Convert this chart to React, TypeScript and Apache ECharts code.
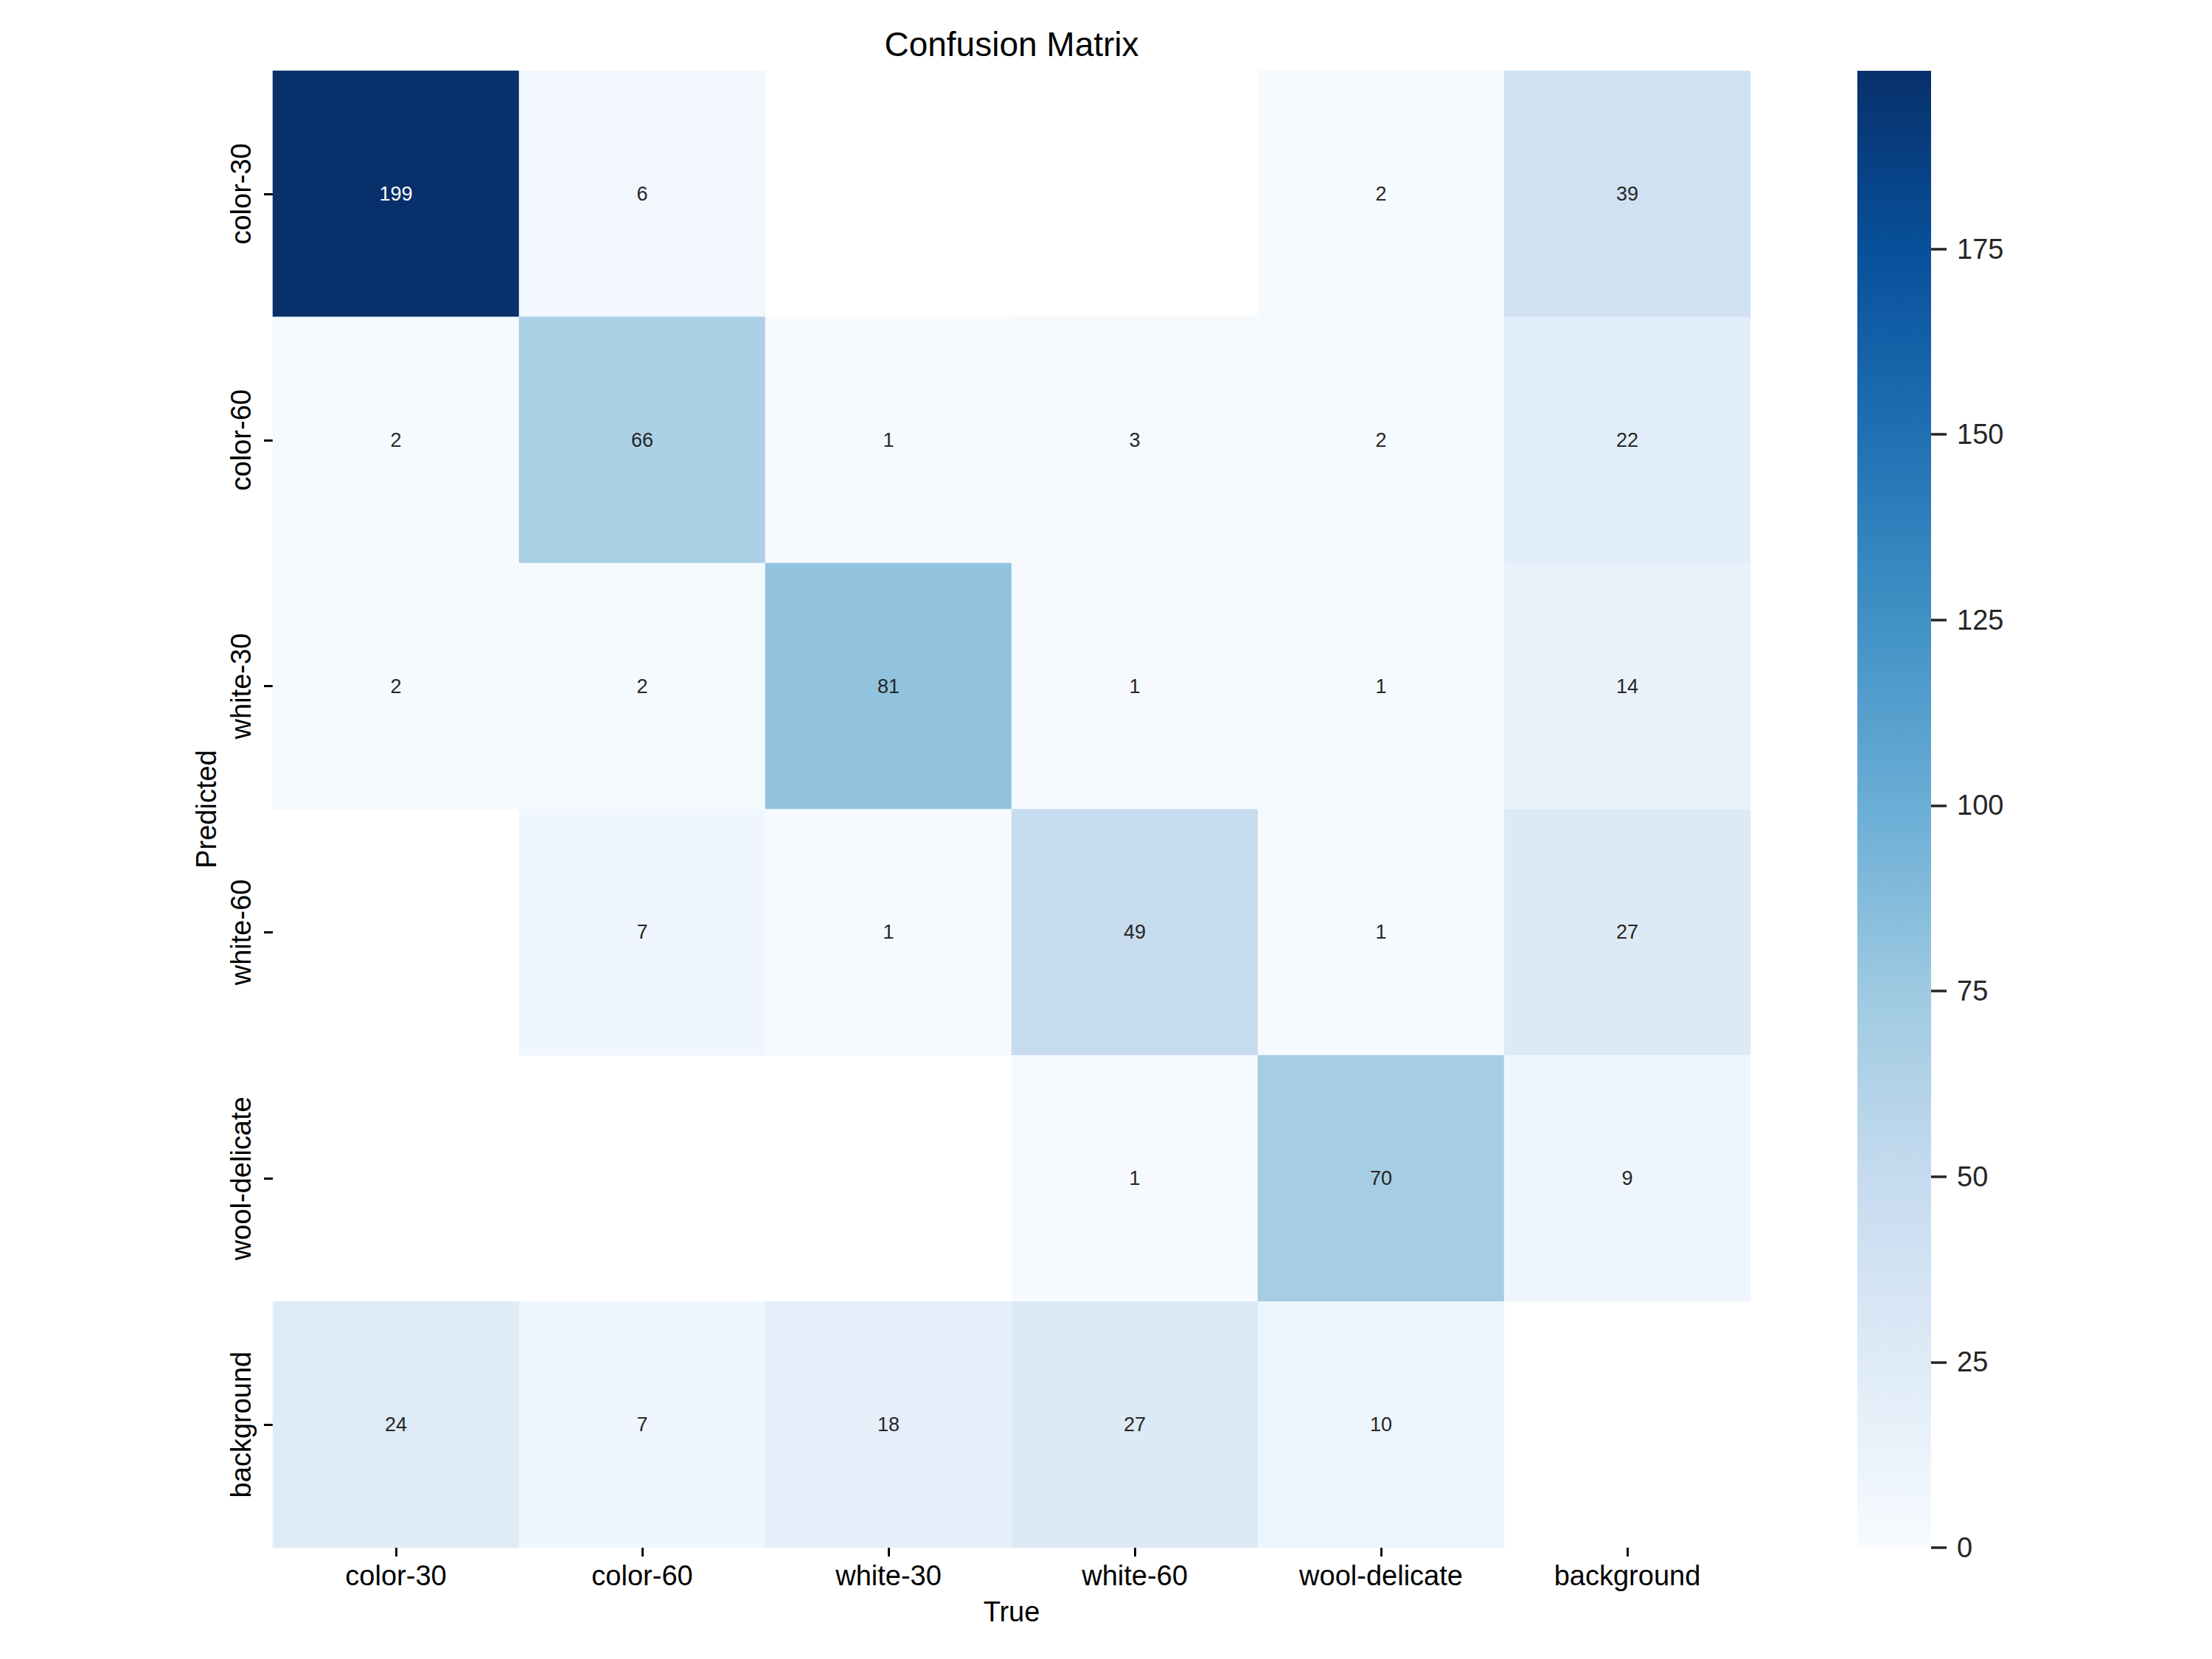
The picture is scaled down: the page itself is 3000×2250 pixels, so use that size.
import React, { useEffect, useRef } from "react";
import * as echarts from "echarts";

// ---------- data ----------
const trueLabels = ["color-30", "color-60", "white-30", "white-60", "wool-delicate", "background"];
const predictedLabels = ["color-30", "color-60", "white-30", "white-60", "wool-delicate", "background"];

// rows = Predicted, columns = True (0 = empty cell)
const predColor30 = [199, 6, 0, 0, 2, 39];
const predColor60 = [2, 66, 1, 3, 2, 22];
const predWhite30 = [2, 2, 81, 1, 1, 14];
const predWhite60 = [0, 7, 1, 49, 1, 27];
const predWoolDelicate = [0, 0, 0, 1, 70, 9];
const predBackground = [24, 7, 18, 27, 10, 0];
const matrixRows = [predColor30, predColor60, predWhite30, predWhite60, predWoolDelicate, predBackground];

const colorbarTicks = [0, 25, 50, 75, 100, 125, 150, 175];
const bluesColormap = ["#f7fbff", "#deebf7", "#c6dbef", "#9ecae1", "#6baed6", "#4292c6", "#2171b5", "#08519c", "#08306b"];

const FONT = "'Liberation Sans', Arial, 'DejaVu Sans', sans-serif";

export default function App() {
  const ref = useRef<HTMLDivElement>(null);

  useEffect(() => {
    document.body.style.margin = "0";
    if (!ref.current) return;
    const chart = echarts.init(ref.current, undefined, { renderer: "svg" });

    const maxValue = Math.max(...matrixRows.map((r) => Math.max(...r)));
    const cells: any[] = [];
    matrixRows.forEach((row, r) => {
      row.forEach((v, c) => {
        if (v > 0) {
          cells.push({
            value: [c, r, v],
            label: { color: v > maxValue * 0.6 ? "#ffffff" : "#262626" },
          });
        }
      });
    });

    const gradientStops = bluesColormap
      .slice()
      .reverse()
      .map((color, i) => ({ offset: i / (bluesColormap.length - 1), color }));

    chart.setOption({
      animation: false,
      backgroundColor: "#ffffff",
      textStyle: { fontFamily: FONT },
      title: {
        text: "Confusion Matrix",
        left: 1372,
        top: 37,
        padding: 0,
        textAlign: "center",
        textStyle: { fontFamily: FONT, fontSize: 46, fontWeight: "normal", color: "#000000" },
      },
      grid: [
        { left: 370, top: 96, width: 2004, height: 2003, containLabel: false },
        { left: 2519, top: 96, width: 100, height: 2003, containLabel: false },
      ],
      xAxis: [
        {
          type: "category",
          gridIndex: 0,
          data: trueLabels,
          position: "bottom",
          name: "True",
          nameLocation: "middle",
          nameGap: 68,
          nameTextStyle: { fontFamily: FONT, fontSize: 38, color: "#000000" },
          axisLine: { show: false },
          axisTick: { show: true, alignWithLabel: true, length: 12, lineStyle: { color: "#000000", width: 3 } },
          axisLabel: { fontFamily: FONT, fontSize: 38, color: "#000000", margin: 19 },
          splitLine: { show: false },
        },
        {
          type: "category",
          gridIndex: 1,
          data: ["cbar"],
          show: false,
        },
      ],
      yAxis: [
        {
          type: "category",
          gridIndex: 0,
          data: predictedLabels,
          inverse: true,
          name: "Predicted",
          nameLocation: "middle",
          nameGap: 71,
          nameRotate: 90,
          nameTextStyle: { fontFamily: FONT, fontSize: 38, color: "#000000" },
          axisLine: { show: false },
          axisTick: { show: true, alignWithLabel: true, length: 12, lineStyle: { color: "#000000", width: 3 } },
          axisLabel: { fontFamily: FONT, fontSize: 38, color: "#000000", rotate: 90, margin: 24 },
          splitLine: { show: false },
        },
        {
          type: "value",
          gridIndex: 1,
          position: "right",
          min: 0,
          max: maxValue,
          interval: 25,
          axisLine: { show: false },
          axisTick: {
            show: true,
            length: 21,
            customValues: colorbarTicks,
            lineStyle: { color: "#262626", width: 3.5 },
          },
          axisLabel: {
            fontFamily: FONT,
            fontSize: 38,
            color: "#262626",
            margin: 35,
            customValues: colorbarTicks,
          },
          splitLine: { show: false },
        },
      ],
      visualMap: {
        type: "continuous",
        show: false,
        seriesIndex: 0,
        min: 0,
        max: maxValue,
        inRange: { color: bluesColormap },
      },
      series: [
        {
          type: "heatmap",
          xAxisIndex: 0,
          yAxisIndex: 0,
          data: cells,
          label: {
            show: true,
            fontFamily: FONT,
            fontSize: 27,
            formatter: (p: any) => String(p.value[2]),
          },
          itemStyle: { borderWidth: 0 },
          emphasis: { disabled: true },
        },
        {
          type: "bar",
          xAxisIndex: 1,
          yAxisIndex: 1,
          data: [maxValue],
          barWidth: "100%",
          barCategoryGap: 0,
          itemStyle: {
            color: new echarts.graphic.LinearGradient(0, 0, 0, 1, gradientStops),
          },
          emphasis: { disabled: true },
          silent: true,
        },
      ],
    });

    return () => {
      chart.dispose();
    };
  }, []);

  return <div ref={ref} style={{ width: 3000, height: 2250 }} />;
}
